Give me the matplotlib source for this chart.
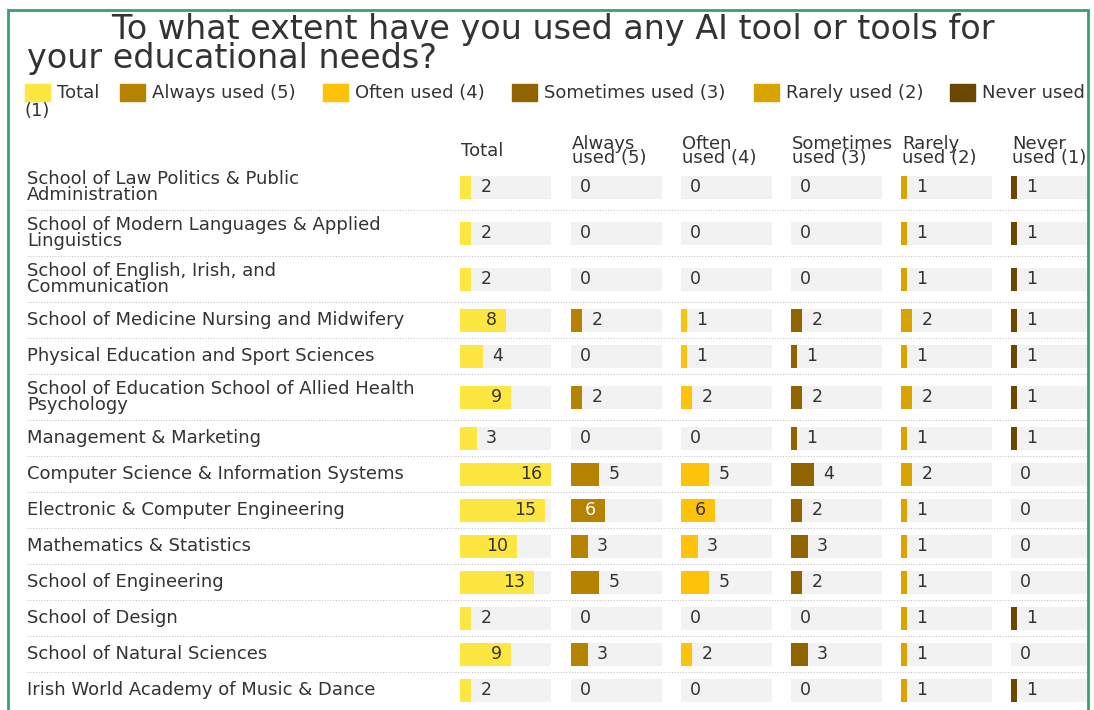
import matplotlib.pyplot as plt
from matplotlib.patches import Rectangle
from matplotlib.lines import Line2D

# data
title_lines = ["To what extent have you used any AI tool or tools for",
               "your educational needs?"]
schools = [
    "School of Law Politics & Public\nAdministration",
    "School of Modern Languages & Applied\nLinguistics",
    "School of English, Irish, and\nCommunication",
    "School of Medicine Nursing and Midwifery",
    "Physical Education and Sport Sciences",
    "School of Education School of Allied Health\nPsychology",
    "Management & Marketing",
    "Computer Science & Information Systems",
    "Electronic & Computer Engineering",
    "Mathematics & Statistics",
    "School of Engineering",
    "School of Design",
    "School of Natural Sciences",
    "Irish World Academy of Music & Dance",
]
total     = [2, 2, 2, 8, 4, 9, 3, 16, 15, 10, 13, 2, 9, 2]
always    = [0, 0, 0, 2, 0, 2, 0, 5, 6, 3, 5, 0, 3, 0]
often     = [0, 0, 0, 1, 1, 2, 0, 5, 6, 3, 5, 0, 2, 0]
sometimes = [0, 0, 0, 2, 1, 2, 1, 4, 2, 3, 2, 0, 3, 0]
rarely    = [1, 1, 1, 2, 1, 2, 1, 2, 1, 1, 1, 1, 1, 1]
never     = [1, 1, 1, 1, 1, 1, 1, 0, 0, 0, 0, 1, 0, 1]

legend_names = ["Total", "Always used (5)", "Often used (4)", "Sometimes used (3)",
                "Rarely used (2)", "Never used"]
headers = ["Total", "Always\nused (5)", "Often\nused (4)", "Sometimes\nused (3)",
           "Rarely\nused (2)", "Never\nused (1)"]
colors = ["#FDE640", "#B58300", "#FFC20A", "#926400", "#D9A300", "#6B4700"]
text_on_bar = ["#333333", "white", "#333333", "white", "#333333", "white"]
series = [total, always, often, sometimes, rarely, never]

W, H = 1094, 710
fig = plt.figure(figsize=(W / 100, H / 100), dpi=100)
plt.rcParams['font.family'] = ['DejaVu Sans']
TXT = "#333333"
FS = 13

# background axes in pixel coordinates
bg = fig.add_axes([0, 0, 1, 1])
bg.set_xlim(0, W)
bg.set_ylim(H, 0)
bg.axis('off')


def px_axes(x0, y0, w, h):
    return fig.add_axes([x0 / W, 1 - (y0 + h) / H, w / W, h / H])


def fig_xy(x, y):
    return x / W, 1 - y / H


# title (first line indented, like the wrapped title in the original)
# va='baseline' puts the last line's baseline at y
bg.text(27, 68, " " * 8 + title_lines[0] + "\n" + title_lines[1],
        fontsize=24, color=TXT, va='baseline', ha='left', linespacing=0.85)

# legend
leg_x = [25, 120, 323, 512, 754, 950]
for x, name, c in zip(leg_x, legend_names, colors):
    bg.add_patch(Rectangle((x, 84), 25, 17, color=c))
    bg.text(x + 32, 93, name, fontsize=FS, color=TXT, va='center')
bg.text(25, 111, "(1)", fontsize=FS, color=TXT, va='center')

# rows
top = 164
heights = [46 if "\n" in s else 36 for s in schools]
centers = []
y = top
for h in heights:
    centers.append(y + h / 2)
    y += h
bottom = y

for s, c in zip(schools, centers):
    bg.text(27, c, s, fontsize=FS, color=TXT, va='center', ha='left',
            linespacing=0.8)
y = top
for h in heights[:-1]:
    y += h
    bg.add_line(Line2D([27, 1088], [y, y], color="#c8c8c8", lw=0.8,
                       linestyle=(0, (1, 1.5))))

# columns
col_x = [460, 571, 681, 791, 901, 1011]
col_w = 91
xmax = max(total)
for j, (vals, c) in enumerate(zip(series, colors)):
    bg.text(col_x[j] + 1, 151, headers[j], fontsize=FS, color=TXT,
            va='center', ha='left', linespacing=0.75)
    ax = px_axes(col_x[j], top, col_w, bottom - top)
    ax.set_xlim(0, xmax)
    ax.set_ylim(bottom, top)
    ax.axis('off')
    ax.barh(centers, [xmax] * len(vals), height=23, color="#F2F2F2")
    ax.barh(centers, vals, height=23, color=c)
    off = 9 * xmax / col_w
    for v, yc in zip(vals, centers):
        if v * col_w / xmax >= 30:
            ax.text(v - off, yc, str(v), ha='right', va='center',
                    fontsize=12.5, color=text_on_bar[j])
        else:
            ax.text(v + off, yc, str(v), ha='left', va='center',
                    fontsize=12.5, color=TXT)

# white margin on the right and green frame
x0, y0 = fig_xy(1089, H)
fig.add_artist(Rectangle((x0, 0), 1 - x0, 1, transform=fig.transFigure,
                         color="white", zorder=5))
x0, y0 = fig_xy(8, 720)
x1, y1 = fig_xy(1088, 10)
fig.add_artist(Rectangle((x0, y0), x1 - x0, y1 - y0, transform=fig.transFigure,
                         fill=False, edgecolor="#3A9E70", lw=2, zorder=6,
                         clip_on=False))

fig.savefig("out.png", dpi=100)
